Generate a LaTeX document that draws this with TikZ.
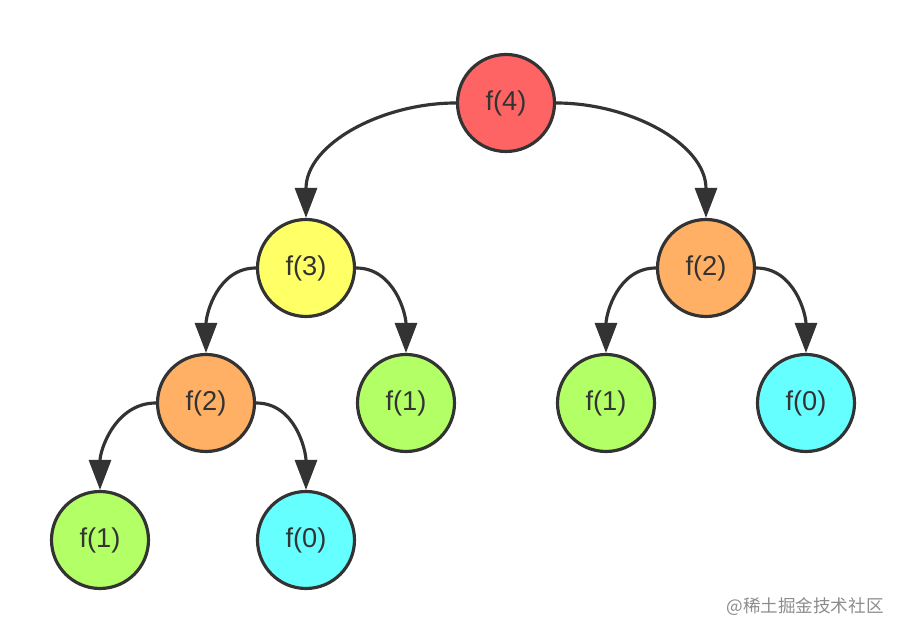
\documentclass[tikz,border=0pt]{standalone}
\usepackage{fontspec}
\setmainfont{Liberation Sans}
\newfontfamily\cjk{Noto Sans CJK SC}
\usepackage{xcolor}
\usetikzlibrary{positioning,arrows.meta}
\definecolor{fred}{HTML}{FF6464}
\definecolor{fyellow}{HTML}{FFFF66}
\definecolor{forange}{HTML}{FFB064}
\definecolor{fgreen}{HTML}{B3FF66}
\definecolor{fcyan}{HTML}{66FFFF}
\definecolor{fline}{HTML}{333333}

\begin{document}
\begin{tikzpicture}[
		call/.style={circle,draw=fline,line width=1.8pt,minimum size=1.94cm,inner sep=0pt,text=fline,font=\fontsize{15.5}{18}\selectfont},
		link/.style={draw=fline,line width=1.8pt,-{Triangle[length=0.6cm,width=0.44cm]}}
	]
			\useasboundingbox (0,0) rectangle (18.12,12.76);
			% level 0 and 1
			\node[call,fill=fred] (f4) at (10.12,10.70) {f(4)};
			\node[call,fill=fyellow] (f3) at (6.12,7.40) {f(3)};
			\node[call,fill=forange] (f2r) at (14.12,7.40) {f(2)};
			% level 2
			\node[call,fill=forange] (f2l) at (4.12,4.70) {f(2)};
			\node[call,fill=fgreen] (f1m) at (8.12,4.70) {f(1)};
			\node[call,fill=fgreen] (f1r) at (12.12,4.70) {f(1)};
			\node[call,fill=fcyan] (f0r) at (16.12,4.70) {f(0)};
			% level 3
			\node[call,fill=fgreen] (f1b) at (2.0,1.96) {f(1)};
			\node[call,fill=fcyan] (f0b) at (6.12,1.96) {f(0)};
			
			\draw[link] (f4.west) to[out=180,in=90] (f3.north);
			\draw[link] (f4.east) to[out=0,in=90] (f2r.north);
			\draw[link] (f3.west) to[out=180,in=90] (f2l.north);
			\draw[link] (f3.east) to[out=0,in=90] (f1m.north);
			\draw[link] (f2r.west) to[out=180,in=90] (f1r.north);
			\draw[link] (f2r.east) to[out=0,in=90] (f0r.north);
			\draw[link] (f2l.west) to[out=180,in=90] (f1b.north);
			\draw[link] (f2l.east) to[out=0,in=90] (f0b.north);
			
			\node[text=black!45,font=\cjk\fontsize{10}{12}\selectfont] (mark) at (16.10,0.62) {@稀土掘金技术社区};
		\end{tikzpicture}
\end{document}
